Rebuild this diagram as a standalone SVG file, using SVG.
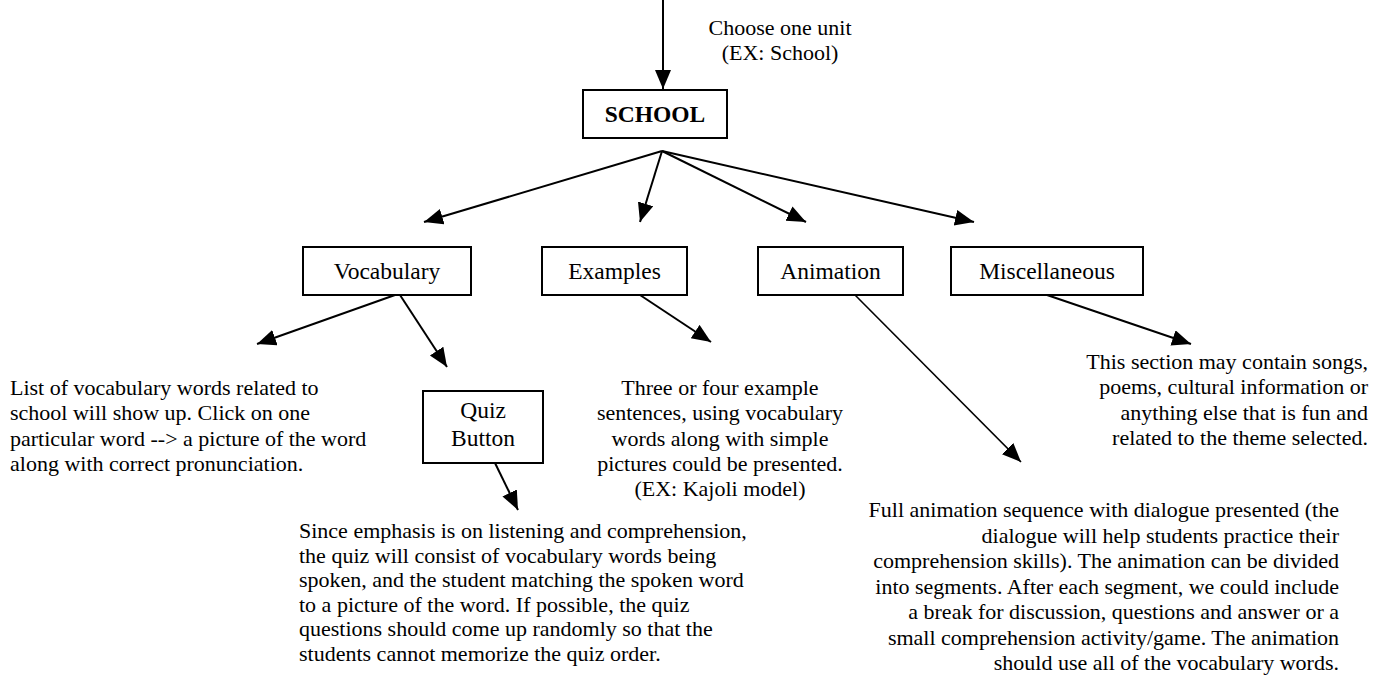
<svg xmlns="http://www.w3.org/2000/svg" width="1377" height="677" viewBox="0 0 1377 677">
<defs>
<marker id="ah" markerUnits="userSpaceOnUse" markerWidth="21" markerHeight="18" refX="19" refY="8" orient="auto">
<path d="M0,0 L19,8 L0,16 Z" fill="#000"/>
</marker>
<style>
.box{fill:#fff;stroke:#000;stroke-width:2}
.t{font-family:"Liberation Serif","Times New Roman",serif;font-size:22px;fill:#000}
.lb{font-family:"Liberation Serif","Times New Roman",serif;font-size:23.5px;fill:#000;text-anchor:middle}
.b{font-weight:bold}
.c{text-anchor:middle}
.r{text-anchor:end}
.ln{stroke:#000;stroke-width:2;fill:none;marker-end:url(#ah)}
</style>
</defs>
<rect width="1377" height="677" fill="#fff"/>
<g id="connectors">
<line class="ln" x1="663" y1="0" x2="663" y2="89"/>
<line class="ln" x1="662" y1="151" x2="424" y2="222"/>
<line class="ln" x1="662" y1="151" x2="640" y2="222"/>
<line class="ln" x1="662" y1="151" x2="806" y2="222"/>
<line class="ln" x1="662" y1="151" x2="974" y2="222"/>
<line class="ln" x1="395" y1="295" x2="257" y2="344"/>
<line class="ln" x1="400" y1="295" x2="447" y2="367"/>
<line class="ln" x1="640" y1="295" x2="711" y2="342"/>
<line class="ln" x1="855" y1="295" x2="1021" y2="462" style="stroke-width:1.6"/>
<line class="ln" x1="1047" y1="295" x2="1191" y2="344"/>
<line class="ln" x1="495" y1="463" x2="518" y2="510"/>
</g>
<g id="choose-label">
<text class="t c" x="780" y="35">Choose one unit</text>
<text class="t c" x="780" y="60">(EX: School)</text>
</g>
<g id="school">
<rect class="box" x="583" y="90" width="144" height="48"/>
<text class="lb b" x="655" y="122">SCHOOL</text>
</g>
<g id="vocabulary">
<rect class="box" x="303" y="247" width="168" height="48"/>
<text class="lb" x="387" y="279">Vocabulary</text>
</g>
<g id="examples">
<rect class="box" x="542" y="247" width="145" height="48"/>
<text class="lb" x="614.5" y="279">Examples</text>
</g>
<g id="animation">
<rect class="box" x="758" y="247" width="145" height="48"/>
<text class="lb" x="830.5" y="279">Animation</text>
</g>
<g id="miscellaneous">
<rect class="box" x="951" y="247" width="192" height="48"/>
<text class="lb" x="1047" y="279">Miscellaneous</text>
</g>
<g id="quiz-button">
<rect class="box" x="423" y="391" width="120" height="72"/>
<text class="lb" x="483" y="418">Quiz</text>
<text class="lb" x="483" y="446">Button</text>
</g>
<g id="vocab-list-text">
<text class="t" x="10" y="395">List of vocabulary words related to</text>
<text class="t" x="10" y="420.3">school will show up. Click on one</text>
<text class="t" x="10" y="445.6">particular word --&gt; a picture of the word</text>
<text class="t" x="10" y="471">along with correct pronunciation.</text>
</g>
<g id="examples-text">
<text class="t c" x="720" y="395">Three or four example</text>
<text class="t c" x="720" y="420.3">sentences, using vocabulary</text>
<text class="t c" x="720" y="445.6">words along with simple</text>
<text class="t c" x="720" y="471">pictures could be presented.</text>
<text class="t c" x="720" y="496">(EX: Kajoli model)</text>
</g>
<g id="misc-text">
<text class="t r" x="1368" y="369">This section may contain songs,</text>
<text class="t r" x="1368" y="394">poems, cultural information or</text>
<text class="t r" x="1368" y="419.5">anything else that is fun and</text>
<text class="t r" x="1368" y="445">related to the theme selected.</text>
</g>
<g id="quiz-text">
<text class="t" x="299" y="538">Since emphasis is on listening and comprehension,</text>
<text class="t" x="299" y="562.5">the quiz will consist of vocabulary words being</text>
<text class="t" x="299" y="587">spoken, and the student matching the spoken word</text>
<text class="t" x="299" y="611.5">to a picture of the word. If possible, the quiz</text>
<text class="t" x="299" y="636">questions should come up randomly so that the</text>
<text class="t" x="299" y="660.5">students cannot memorize the quiz order.</text>
</g>
<g id="animation-text">
<text class="t r" x="1339" y="517">Full animation sequence with dialogue presented (the</text>
<text class="t r" x="1339" y="542.5">dialogue will help students practice their</text>
<text class="t r" x="1339" y="568">comprehension skills). The animation can be divided</text>
<text class="t r" x="1339" y="593.5">into segments. After each segment, we could include</text>
<text class="t r" x="1339" y="619">a break for discussion, questions and answer or a</text>
<text class="t r" x="1339" y="644.5">small comprehension activity/game. The animation</text>
<text class="t r" x="1339" y="670">should use all of the vocabulary words.</text>
</g>
</svg>
